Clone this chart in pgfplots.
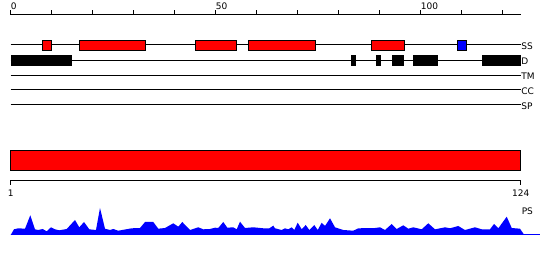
\documentclass[border=0pt]{standalone}
\usepackage{pgfplots}
\pgfplotsset{compat=1.18}
\usepackage{fontspec}
\setmainfont{DejaVu Sans}
\newcommand{\rect}[5]{\addplot[#5] coordinates {(#1,#3) (#2,#3) (#2,#4) (#1,#4)} -- cycle;}
\tikzset{lbl/.style={inner sep=0pt, font=\fontsize{9}{10}\selectfont}}
\begin{document}
\begin{tikzpicture}
\begin{axis}[scale only axis, width=550pt, height=260pt,
  xmin=-2.6098, xmax=131.5366, ymin=0, ymax=260,
  axis line style={draw=none}, xtick=\empty, ytick=\empty, clip=false]
% top ruler
\addplot[black, line width=1pt] coordinates {(0,245) (124.4,245)};
\pgfplotsinvokeforeach{0,10,20,30,40,50,60,70,80,90,100,110,120}{
  \addplot[black, line width=1pt] coordinates {(#1,245) (#1,250)};
}
\node[lbl, anchor=base west] at (axis cs:0,250) {0};
\node[lbl, anchor=base west] at (axis cs:50,250) {50};
\node[lbl, anchor=base west] at (axis cs:100,250) {100};
% tracks
\addplot[black, line width=1pt] coordinates {(0,215) (124.4,215)};
\addplot[black, line width=1pt] coordinates {(0,199.7) (124.4,199.7)};
\addplot[black, line width=1pt] coordinates {(0,184.7) (124.4,184.7)};
\addplot[black, line width=1pt] coordinates {(0,170) (124.4,170)};
\addplot[black, line width=1pt] coordinates {(0,155) (124.4,155)};
\node[lbl, anchor=base west] at (axis cs:124.5,210.5) {SS};
\node[lbl, anchor=base west] at (axis cs:124.5,195.2) {D};
\node[lbl, anchor=base west] at (axis cs:124.5,180.2) {TM};
\node[lbl, anchor=base west] at (axis cs:124.5,165.5) {CC};
\node[lbl, anchor=base west] at (axis cs:124.5,150.5) {SP};
% SS boxes
\rect{7.7}{10.0}{209.3}{220}{fill=red, draw=black, line width=0.8pt}
\rect{16.7}{32.9}{209.3}{220}{fill=red, draw=black, line width=0.8pt}
\rect{45.0}{55.1}{209.3}{220}{fill=red, draw=black, line width=0.8pt}
\rect{58.0}{74.2}{209.3}{220}{fill=red, draw=black, line width=0.8pt}
\rect{88.0}{96.1}{209.3}{220}{fill=red, draw=black, line width=0.8pt}
\rect{109.0}{111.1}{209.3}{220}{fill=blue, draw=black, line width=0.8pt}
% D boxes
\rect{0}{14.9}{194.3}{205}{fill=black, draw=none}
\rect{83.0}{84.2}{194.3}{205}{fill=black, draw=none}
\rect{89.1}{90.3}{194.3}{205}{fill=black, draw=none}
\rect{93.0}{96.0}{194.3}{205}{fill=black, draw=none}
\rect{98.0}{104.1}{194.3}{205}{fill=black, draw=none}
\rect{115.0}{124.4}{194.3}{205}{fill=black, draw=none}
% red bar
\rect{0}{124.4}{89.3}{110}{fill=red, draw=black, line width=0.8pt}
% bottom ruler
\addplot[black, line width=1pt] coordinates {(0,75) (0,79.7) (124.4,79.7) (124.4,75)};
\node[lbl, anchor=north] at (axis cs:0,70) {1};
\node[lbl, anchor=north] at (axis cs:124.4,70) {124};
\node[lbl, anchor=base west] at (axis cs:124.6,45) {PS};
% PS profile
\addplot[fill=blue, draw=none] table {
0 25
0.80 30.7
1.85 31.7
3.49 31.3
4.78 44.7
5.93 30.7
6.73 30
7.80 31
8.78 28.7
9.83 32.7
10.80 30.7
11.85 29.7
13.66 31
15.68 40
16.73 32.7
17.88 38
19.17 30.7
20.80 30
21.78 52
23.00 31.3
24.22 30
25.02 31
26.24 29.3
29.51 31.7
31.54 32
32.76 38
34.78 38
36.00 31.3
37.63 32
39.66 36.7
40.88 33.3
41.85 38
43.73 30
45.76 32.7
46.98 30.7
48.61 31
49.83 32.3
50.63 32
51.85 38
52.83 32.3
54.29 32.7
55.12 30.7
55.93 38.3
57.15 32
59.17 32.7
61.61 31.7
63.07 31.7
64.05 34.3
64.46 31.7
66.10 30
66.90 31.7
67.71 30.7
68.54 32.7
69.17 30
70.00 37.3
70.98 30.7
71.95 35
72.83 30
74.05 35
74.88 30
75.85 37.3
76.66 34
77.88 41.7
79.10 32.7
81.12 30
83.56 29.3
84.78 31.7
88.85 32
90.07 32.7
91.29 30
92.93 36
94.15 31
95.76 34.7
96.98 31.3
98.20 32.7
100.24 30.7
101.85 36.7
103.49 30.7
105.93 32.7
107.15 31.7
109.17 34
110.80 30
113.24 32.7
114.88 30.7
116.90 30.7
117.88 36
118.93 31.7
120.98 43.3
122.20 32
124.22 31.3
125.27 25
} -- cycle;
\addplot[blue, line width=1pt] coordinates {(0,25) (129.1,25)};
\end{axis}
\end{tikzpicture}
\end{document}
